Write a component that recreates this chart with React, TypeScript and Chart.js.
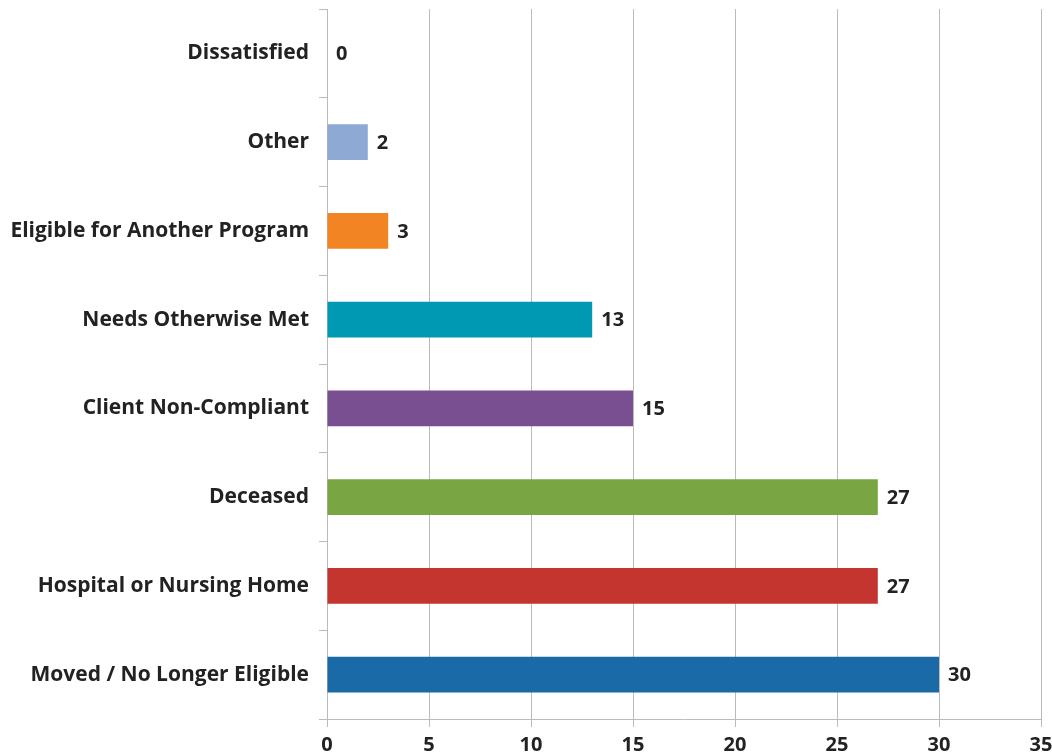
import React, { useEffect, useRef } from "react";
import { Chart, registerables } from "chart.js";

Chart.register(...registerables);

const categories = [
  "Dissatisfied",
  "Other",
  "Eligible for Another Program",
  "Needs Otherwise Met",
  "Client Non-Compliant",
  "Deceased",
  "Hospital or Nursing Home",
  "Moved / No Longer Eligible",
];
const values = [0, 2, 3, 13, 15, 27, 27, 30];
const barColors = [
  "#8EA9D3",
  "#8EA9D3",
  "#F28424",
  "#0099B4",
  "#7A4F91",
  "#79A642",
  "#C5352F",
  "#1A6AA8",
];
const xMax = 35;
const xStep = 5;

const FONT = "'Open Sans', 'Noto Sans', sans-serif";

const labelPlugin = {
  id: "valueLabels",
  afterDatasetsDraw(chart: any) {
    const ctx = chart.ctx;
    const meta = chart.getDatasetMeta(0);
    const xs = chart.scales.x;
    ctx.save();
    ctx.font = `bold 20px ${FONT}`;
    ctx.fillStyle = "#222222";
    ctx.textAlign = "left";
    ctx.textBaseline = "middle";
    meta.data.forEach((bar: any, i: number) => {
      const v = values[i];
      ctx.fillText(String(v), xs.getPixelForValue(v) + 9, bar.y + 1);
    });
    const area = chart.chartArea;
    ctx.strokeStyle = "#BBBBBB";
    ctx.lineWidth = 1;
    ctx.beginPath();
    ctx.moveTo(area.left - 8, Math.round(area.bottom) + 0.5);
    ctx.lineTo(area.left, Math.round(area.bottom) + 0.5);
    ctx.stroke();
    ctx.restore();
  },
};

export default function App() {
  const ref = useRef<HTMLCanvasElement>(null);
  useEffect(() => {
    document.body.style.margin = "0";
    const chart = new Chart(ref.current!, {
      type: "bar",
      data: {
        labels: categories,
        datasets: [
          {
            data: values,
            backgroundColor: barColors,
            barPercentage: 0.405,
            categoryPercentage: 1,
          },
        ],
      },
      options: {
        indexAxis: "y",
        responsive: false,
        animation: false,
        maintainAspectRatio: false,
        layout: { padding: { top: 9, right: 11, left: 0, bottom: 0 } },
        plugins: {
          legend: { display: false },
          tooltip: { enabled: false },
        },
        scales: {
          x: {
            min: 0,
            max: xMax,
            ticks: {
              stepSize: xStep,
              color: "#222222",
              font: { family: FONT, size: 20, weight: "bold" },
              padding: 6,
            },
            grid: {
              color: "#BBBBBB",
              lineWidth: 1,
              tickLength: 8,
            },
            border: { color: "#BBBBBB", width: 1 },
            afterFit(scale: any) {
              scale.height = 37;
              scale.paddingLeft = 0;
              scale.paddingRight = 0;
            },
          },
          y: {
            ticks: {
              color: "#222222",
              font: { family: FONT, size: 21, weight: "bold" },
              padding: 10,
            },
            grid: {
              offset: true,
              drawOnChartArea: false,
              color: "#BBBBBB",
              tickLength: 8,
            },
            border: { color: "#BBBBBB", width: 1 },
            afterFit(scale: any) {
              scale.width = 327;
              scale.paddingTop = 0;
              scale.paddingBottom = 0;
            },
          },
        },
      },
      plugins: [labelPlugin],
    });
    return () => chart.destroy();
  }, []);
  return (
    <div style={{ position: "absolute", left: 0, top: 0, width: 1052, height: 756 }}>
      <canvas ref={ref} width={1052} height={756} />
    </div>
  );
}
